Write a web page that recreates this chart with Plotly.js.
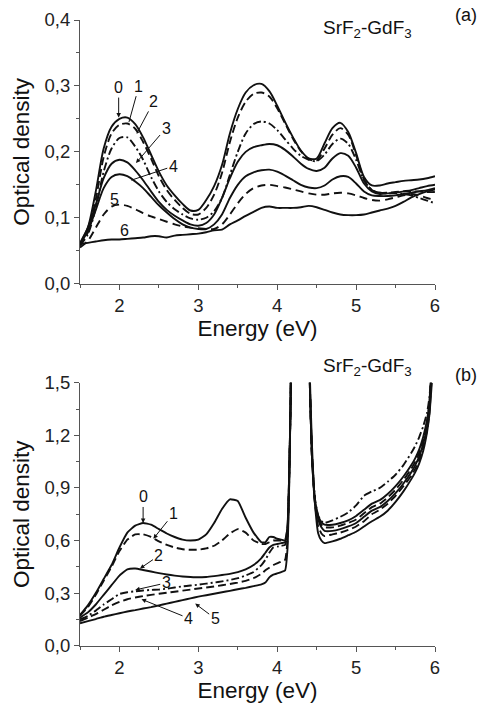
<!DOCTYPE html>
<html><head><meta charset="utf-8">
<script src="https://cdn.plot.ly/plotly-3.0.1.min.js"></script>
<style>html,body{margin:0;padding:0;background:#fff}#chart{width:479px;height:705px}</style>
</head><body><div id="chart"></div>
<script>
// ---- Panel (a) data ----
const energyA = [1.5,1.6,1.7,1.8,1.9,2.0,2.1,2.2,2.3,2.4,2.5,2.6,2.7,2.8,2.9,3.0,3.1,3.2,3.3,3.4,3.5,3.6,3.7,3.8,3.9,4.0,4.1,4.2,4.3,4.4,4.5,4.6,4.7,4.8,4.9,5.0,5.1,5.2,5.3,5.4,5.5,5.6,5.7,5.8,5.9,6.0];
const a0 = [0.060,0.085,0.140,0.205,0.238,0.250,0.252,0.242,0.222,0.196,0.170,0.149,0.134,0.121,0.111,0.112,
            0.127,0.148,0.180,0.228,0.265,0.290,0.301,0.303,0.292,0.270,
            0.245,0.222,0.202,0.190,0.190,0.213,0.236,0.244,0.230,0.198,
            0.162,0.149,0.149,0.152,0.154,0.156,0.157,0.158,0.160,0.163];
const a1 = [0.058,0.078,0.128,0.192,0.228,0.241,0.243,0.235,0.215,0.190,0.163,0.142,0.127,0.115,0.106,0.105,
            0.115,0.135,0.168,0.215,0.252,0.276,0.288,0.290,0.284,0.266,
            0.243,0.220,0.201,0.189,0.187,0.205,0.226,0.236,0.226,0.195,
            0.158,0.142,0.138,0.138,0.139,0.140,0.140,0.140,0.139,0.139];
const a2 = [0.058,0.075,0.115,0.170,0.205,0.221,0.222,0.208,0.188,0.162,0.140,0.124,0.113,0.105,0.099,0.097,
            0.100,0.110,0.130,0.165,0.200,0.228,0.242,0.246,0.243,0.233,
            0.219,0.205,0.194,0.188,0.186,0.196,0.212,0.220,0.212,0.188,
            0.157,0.142,0.138,0.137,0.137,0.136,0.134,0.130,0.126,0.122];
const a3 = [0.062,0.085,0.120,0.160,0.182,0.188,0.184,0.172,0.157,0.140,0.124,0.112,0.103,0.096,0.090,0.088,
            0.092,0.105,0.130,0.160,0.185,0.200,0.207,0.210,0.212,0.210,
            0.203,0.193,0.182,0.174,0.171,0.176,0.190,0.198,0.194,0.176,
            0.152,0.140,0.136,0.137,0.138,0.140,0.142,0.145,0.148,0.150];
const a4 = [0.060,0.080,0.112,0.145,0.162,0.166,0.163,0.155,0.145,0.132,0.119,0.108,0.098,0.090,0.085,0.083,
            0.083,0.090,0.105,0.130,0.150,0.163,0.169,0.172,0.173,0.170,
            0.164,0.157,0.150,0.146,0.145,0.149,0.158,0.163,0.162,0.152,
            0.140,0.134,0.133,0.133,0.134,0.136,0.138,0.140,0.142,0.145];
const a5 = [0.055,0.065,0.085,0.105,0.117,0.120,0.118,0.113,0.107,0.102,0.098,0.094,0.090,0.087,0.085,0.084,
            0.083,0.083,0.090,0.105,0.122,0.136,0.145,0.149,0.150,0.148,
            0.146,0.143,0.140,0.137,0.135,0.135,0.137,0.138,0.137,0.134,
            0.130,0.127,0.126,0.128,0.131,0.134,0.136,0.134,0.130,0.127];
const a6 = [0.060,0.062,0.064,0.066,0.067,0.067,0.068,0.069,0.070,0.072,0.072,0.070,0.073,0.074,0.075,0.076,
            0.078,0.081,0.082,0.090,0.096,0.103,0.109,0.115,0.117,0.115,
            0.115,0.115,0.116,0.118,0.116,0.112,0.108,0.105,0.104,0.104,
            0.105,0.108,0.111,0.114,0.118,0.124,0.131,0.136,0.140,0.143];

// ---- Panel (b) data ----
const energyB = [1.5,1.6,1.7,1.8,1.9,2.0,2.1,2.2,2.3,2.4,2.5,2.6,2.7,2.8,2.9,3.0,3.1,3.2,3.3,3.4,3.5,3.6,3.7,3.8,
                 3.85,3.9,3.95,4.0,4.05,4.1,4.13,4.15,4.17,4.19,
                 4.3,
                 4.39,4.41,4.44,4.48,4.52,4.56,
                 4.6,4.7,4.8,4.9,5.0,5.1,5.2,5.3,5.4,5.5,5.6,5.7,
                 5.75,5.8,5.85,5.9,5.93,5.96];
const b0 = [0.175,0.23,0.30,0.38,0.46,0.56,0.645,0.685,0.70,0.69,0.665,0.64,0.62,0.605,0.60,0.605,0.635,0.70,0.78,0.835,0.825,0.73,0.645,0.59,
            0.59,0.62,0.62,0.61,0.605,0.60,0.68,0.95,1.40,2.5,
            null,
            2.5,1.55,1.08,0.83,0.74,0.705,
            0.69,0.69,0.70,0.715,0.74,0.775,0.81,0.83,0.865,0.91,0.965,1.03,
            1.07,1.12,1.19,1.29,1.40,1.60];
const b1 = [0.17,0.22,0.29,0.37,0.45,0.54,0.605,0.635,0.635,0.62,0.595,0.575,0.56,0.55,0.547,0.548,0.555,0.57,0.60,0.64,0.665,0.645,0.60,0.58,
            0.58,0.59,0.60,0.60,0.60,0.605,0.67,0.95,1.40,2.5,
            null,
            2.5,1.55,1.08,0.82,0.73,0.69,
            0.675,0.675,0.685,0.70,0.72,0.755,0.79,0.81,0.845,0.89,0.945,1.01,
            1.05,1.10,1.17,1.27,1.38,1.60];
const b2 = [0.16,0.19,0.235,0.29,0.345,0.40,0.435,0.44,0.432,0.423,0.414,0.406,0.40,0.395,0.392,0.39,0.392,0.397,0.403,0.41,0.42,0.435,0.46,0.50,
            0.53,0.56,0.575,0.58,0.585,0.59,0.65,0.93,1.40,2.5,
            null,
            2.5,1.55,1.08,0.81,0.72,0.675,
            0.655,0.655,0.665,0.68,0.70,0.735,0.77,0.79,0.825,0.87,0.925,0.99,
            1.03,1.08,1.15,1.25,1.36,1.58];
const b3 = [0.15,0.17,0.20,0.235,0.265,0.295,0.305,0.31,0.315,0.318,0.32,0.325,0.332,0.338,0.343,0.348,0.354,0.36,0.367,0.375,0.385,0.40,0.42,0.46,
            0.49,0.53,0.56,0.565,0.57,0.575,0.64,0.92,1.40,2.5,
            null,
            2.5,1.55,1.08,0.83,0.74,0.71,
            0.70,0.715,0.735,0.76,0.80,0.855,0.88,0.90,0.935,0.975,1.03,1.10,
            1.14,1.19,1.25,1.33,1.42,1.60];
const b4 = [0.14,0.16,0.18,0.205,0.23,0.25,0.265,0.275,0.283,0.29,0.296,0.302,0.308,0.314,0.32,0.326,0.332,0.338,0.345,0.352,0.36,0.37,0.385,0.41,
            0.43,0.445,0.46,0.47,0.48,0.49,0.60,0.90,1.40,2.5,
            null,
            2.5,1.55,1.10,0.80,0.68,0.64,
            0.625,0.635,0.645,0.66,0.68,0.71,0.75,0.775,0.81,0.855,0.91,0.97,
            1.01,1.06,1.13,1.23,1.33,1.55];
const b5 = [0.128,0.14,0.152,0.165,0.175,0.185,0.195,0.203,0.212,0.22,0.23,0.24,0.25,0.26,0.27,0.28,0.288,0.296,0.305,0.313,0.322,0.33,0.34,0.35,
            0.36,0.39,0.405,0.412,0.42,0.43,0.55,0.88,1.40,2.5,
            null,
            2.5,1.60,1.15,0.80,0.64,0.60,
            0.585,0.595,0.61,0.63,0.65,0.68,0.71,0.735,0.77,0.82,0.88,0.95,
            0.99,1.04,1.11,1.22,1.32,1.50];

const seriesA = [a0,a1,a2,a3,a4,a5,a6];
const dashA = ['solid','8px,4px','8px,3px,2px,3px','solid','solid','8px,5px','solid'];
const seriesB = [b0,b1,b2,b3,b4,b5];
const dashB = ['solid','8px,4px','solid','8px,3px,2px,3px','8px,4px','solid'];

const labelsA = ['0','1','2','3','4','5','6'];
const labelsB = ['0','1','2','3','4','5'];

const traces = [];
seriesA.forEach((s,i)=>traces.push({x:energyA,y:s,xaxis:'x',yaxis:'y',mode:'lines',
  line:{color:'#111',width:1.9,dash:dashA[i],shape:'spline',smoothing:0.8},hoverinfo:'skip',showlegend:false}));
seriesB.forEach((s,i)=>traces.push({x:energyB,y:s,xaxis:'x2',yaxis:'y2',mode:'lines',
  line:{color:'#111',width:1.9,dash:dashB[i],shape:'spline',smoothing:0.4},hoverinfo:'skip',showlegend:false}));

const W=479,H=705;
const px=(v)=>v/W, py=(v)=>1-v/H;
const FONT='Liberation Sans, Arial, sans-serif';
const axisCommon = {showline:true,linecolor:'#555',linewidth:1,ticks:'outside',ticklen:5,tickcolor:'#555',
  showgrid:false,zeroline:false,tickfont:{size:18.5,color:'#222',family:FONT},automargin:false};

const labelFont={size:16,color:'#111',family:FONT};
function lab(t,x,y,ax,ay,head,xr,yr,arrow){
  return {text:t,x:x,y:y,xref:xr,yref:yr,ax:ax,ay:ay,showarrow:arrow,arrowhead:head,arrowsize:0.9,arrowwidth:1,
    arrowcolor:'#111',font:labelFont,standoff:0,startstandoff:0};
}
const annotations = [
  lab(labelsA[0],1.99,0.252,0,-30,2,'x','y',true),
  lab(labelsA[1],2.12,0.245,10,-36,0,'x','y',true),
  lab(labelsA[2],2.22,0.228,17,-32,0,'x','y',true),
  lab(labelsA[3],2.21,0.183,30,-35,2,'x','y',true),
  lab(labelsA[4],2.15,0.157,42,-14,0,'x','y',true),
  lab(labelsA[5],1.94,0.127,0,0,0,'x','y',false),
  lab(labelsA[6],2.07,0.080,0,0,0,'x','y',false),
  lab(labelsB[0],2.30,0.70,0,-26,2,'x2','y2',true),
  lab(labelsB[1],2.43,0.61,20,-25,2,'x2','y2',true),
  lab(labelsB[2],2.26,0.44,19,-13,2,'x2','y2',true),
  lab(labelsB[3],2.20,0.318,31,-7,2,'x2','y2',true),
  lab(labelsB[4],2.28,0.265,47,19,2,'x2','y2',true),
  lab(labelsB[5],2.96,0.24,20,15,2,'x2','y2',true),
  {text:'SrF<sub>2</sub>-GdF<sub>3</sub>',xref:'paper',yref:'paper',x:px(367),y:py(29),showarrow:false,
   font:{size:19,color:'#111',family:FONT},xanchor:'center',yanchor:'middle'},
  {text:'SrF<sub>2</sub>-GdF<sub>3</sub>',xref:'paper',yref:'paper',x:px(367),y:py(367),showarrow:false,
   font:{size:19,color:'#111',family:FONT},xanchor:'center',yanchor:'middle'},
  {text:'(a)',xref:'paper',yref:'paper',x:px(453),y:py(15),showarrow:false,
   font:{size:18,color:'#111',family:FONT},xanchor:'left',yanchor:'middle'},
  {text:'(b)',xref:'paper',yref:'paper',x:px(453),y:py(375),showarrow:false,
   font:{size:18,color:'#111',family:FONT},xanchor:'left',yanchor:'middle'}
];

const titleFont={size:22.5,color:'#111',family:FONT};
const layout = {
  width:W,height:H,margin:{l:0,r:0,t:0,b:0},paper_bgcolor:'#fff',plot_bgcolor:'#fff',
  separators:',.',font:{family:FONT,color:'#111'},showlegend:false,
  xaxis:Object.assign({},axisCommon,{domain:[px(80),px(435)],anchor:'y',range:[1.5,6],dtick:1,tick0:0,
    minor:{dtick:0.5,ticklen:3,ticks:'outside',tickcolor:'#555'},
    title:{text:'Energy (eV)',font:titleFont,standoff:3}}),
  yaxis:Object.assign({},axisCommon,{domain:[py(283.7),py(20)],anchor:'x',range:[0,0.4],dtick:0.1,tickformat:'.1f',
    minor:{dtick:0.05,ticklen:3,ticks:'outside',tickcolor:'#555'},
    title:{text:'Optical density',font:titleFont,standoff:8}}),
  xaxis2:Object.assign({},axisCommon,{domain:[px(80),px(435)],anchor:'y2',range:[1.5,6],dtick:1,tick0:0,
    minor:{dtick:0.5,ticklen:3,ticks:'outside',tickcolor:'#555'},
    title:{text:'Energy (eV)',font:titleFont,standoff:3}}),
  yaxis2:Object.assign({},axisCommon,{domain:[py(645.7),py(382.7)],anchor:'x2',range:[0,1.5],dtick:0.3,tickformat:'.1f',
    minor:{dtick:0.15,ticklen:3,ticks:'outside',tickcolor:'#555'},
    title:{text:'Optical density',font:titleFont,standoff:8}}),
  annotations:annotations
};
Plotly.newPlot('chart',traces,layout,{displayModeBar:false,staticPlot:true});
</script></body></html>
